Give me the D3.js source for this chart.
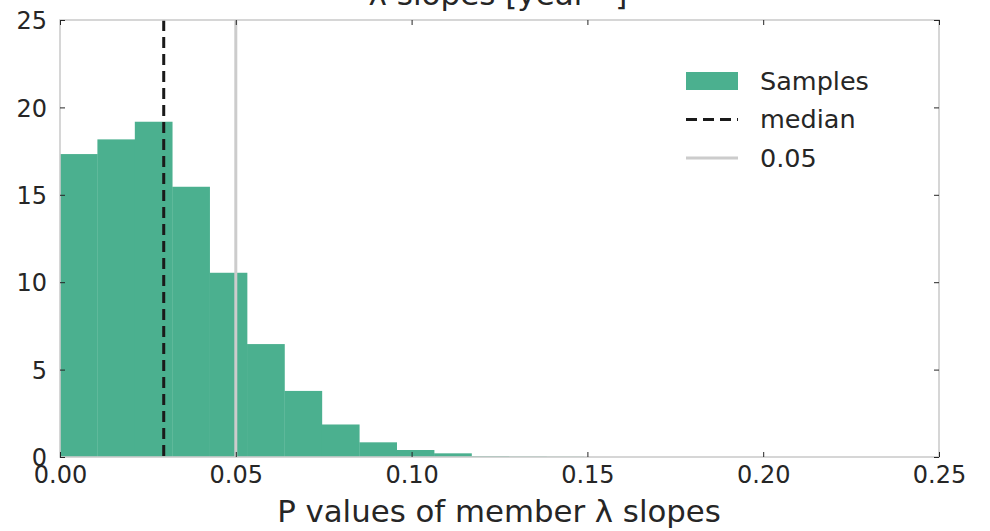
<!DOCTYPE html>
<html><head><meta charset="utf-8">
<script src="https://cdnjs.cloudflare.com/ajax/libs/d3/7.8.5/d3.min.js"></script>
<style>
html,body{margin:0;padding:0;background:#fff;}
svg{display:block;font-family:"DejaVu Sans",sans-serif;}
</style></head><body>
<script>
// Data
const binStart = 0.0;
const binWidth = 0.01064;
const counts = [17.33, 18.17, 19.18, 15.46, 10.54, 6.46, 3.78, 1.86, 0.84, 0.40, 0.21, 0.05, 0.03, 0.02];
const medianValue = 0.0295;
const thresholdValue = 0.05;
const xTicks = [0.00, 0.05, 0.10, 0.15, 0.20, 0.25];
const yTicks = [0, 5, 10, 15, 20, 25];
const legendLabels = ["Samples", "median", "0.05"];
const titleText = "λ slopes [year⁻¹]";
const xLabelText = "P values of member λ slopes";

const W = 990, H = 531;
const m = {left: 60, right: 51, top: 20, bottom: 74};
const svg = d3.select("body").append("svg").attr("width", W).attr("height", H);

const x = d3.scaleLinear().domain([0, 0.25]).range([m.left, W - m.right]);
const y = d3.scaleLinear().domain([0, 25]).range([H - m.bottom, m.top]);

const bins = counts.map((c, i) => ({x0: binStart + i * binWidth, x1: binStart + (i + 1) * binWidth, v: c}));
const green = "#4bb08f";

svg.append("g").selectAll("rect").data(bins).join("rect")
  .attr("x", d => x(d.x0))
  .attr("width", d => x(d.x1) - x(d.x0) + 0.3)
  .attr("y", d => y(d.v))
  .attr("height", d => y(0) - y(d.v))
  .attr("fill", green);

// threshold line
svg.append("line")
  .attr("x1", x(thresholdValue)).attr("x2", x(thresholdValue))
  .attr("y1", y(25)).attr("y2", y(0))
  .attr("stroke", "#cccccc").attr("stroke-width", 3);
// median line
svg.append("line")
  .attr("x1", x(medianValue)).attr("x2", x(medianValue))
  .attr("y1", y(25)).attr("y2", y(0))
  .attr("stroke", "#1a1a1a").attr("stroke-width", 3)
  .attr("stroke-dasharray", "11,6");

// frame (spines)
svg.append("rect")
  .attr("x", x(0)).attr("y", y(25))
  .attr("width", x(0.25) - x(0)).attr("height", y(0) - y(25))
  .attr("fill", "none").attr("stroke", "#cccccc").attr("stroke-width", 1.6);

const tickLen = 5, tickCol = "#262626";
const axB = svg.append("g").attr("transform", `translate(0,${y(0)})`)
  .call(d3.axisBottom(x).tickValues(xTicks).tickFormat(d3.format(".2f")).tickSize(-tickLen).tickPadding(9));
const axT = svg.append("g").attr("transform", `translate(0,${y(25)})`)
  .call(d3.axisTop(x).tickValues(xTicks).tickFormat("").tickSize(-tickLen));
const axL = svg.append("g").attr("transform", `translate(${x(0)},0)`)
  .call(d3.axisLeft(y).tickValues(yTicks).tickFormat(d3.format("d")).tickSize(-tickLen).tickPadding(13));
const axR = svg.append("g").attr("transform", `translate(${x(0.25)},0)`)
  .call(d3.axisRight(y).tickValues(yTicks).tickFormat("").tickSize(-tickLen));
[axB, axT, axL, axR].forEach(a => {
  a.select(".domain").remove();
  a.selectAll(".tick line").attr("stroke", tickCol).attr("stroke-width", 1);
  a.selectAll("text").attr("fill", "#262626").attr("font-size", 24).attr("font-family", "DejaVu Sans");
});
axB.selectAll(".tick text").attr("dy", "0.71em");
axL.selectAll(".tick text").attr("dy", "0.36em");

// title (cut off at top)
svg.append("text").attr("x", 498).attr("y", 5).attr("text-anchor", "middle")
  .attr("font-size", 31).attr("fill", "#262626").text(titleText);
// x label
svg.append("text").attr("x", 499).attr("y", 522).attr("text-anchor", "middle")
  .attr("font-size", 30.8).attr("fill", "#262626").text(xLabelText);

// legend
const lg = svg.append("g");
const lx = 686, ly0 = 81, dy = 38.5;
lg.append("rect").attr("x", lx).attr("y", ly0 - 9).attr("width", 52).attr("height", 18).attr("fill", green);
lg.append("line").attr("x1", lx).attr("x2", lx + 52).attr("y1", ly0 + dy).attr("y2", ly0 + dy)
  .attr("stroke", "#1a1a1a").attr("stroke-width", 3).attr("stroke-dasharray", "11,6");
lg.append("line").attr("x1", lx).attr("x2", lx + 52).attr("y1", ly0 + 2 * dy).attr("y2", ly0 + 2 * dy)
  .attr("stroke", "#cccccc").attr("stroke-width", 3);
legendLabels.forEach((t, i) => {
  lg.append("text").attr("x", 760).attr("y", ly0 + i * dy).attr("dy", "0.35em")
    .attr("font-size", 25.5).attr("fill", "#262626").text(t);
});
</script>
</body></html>
